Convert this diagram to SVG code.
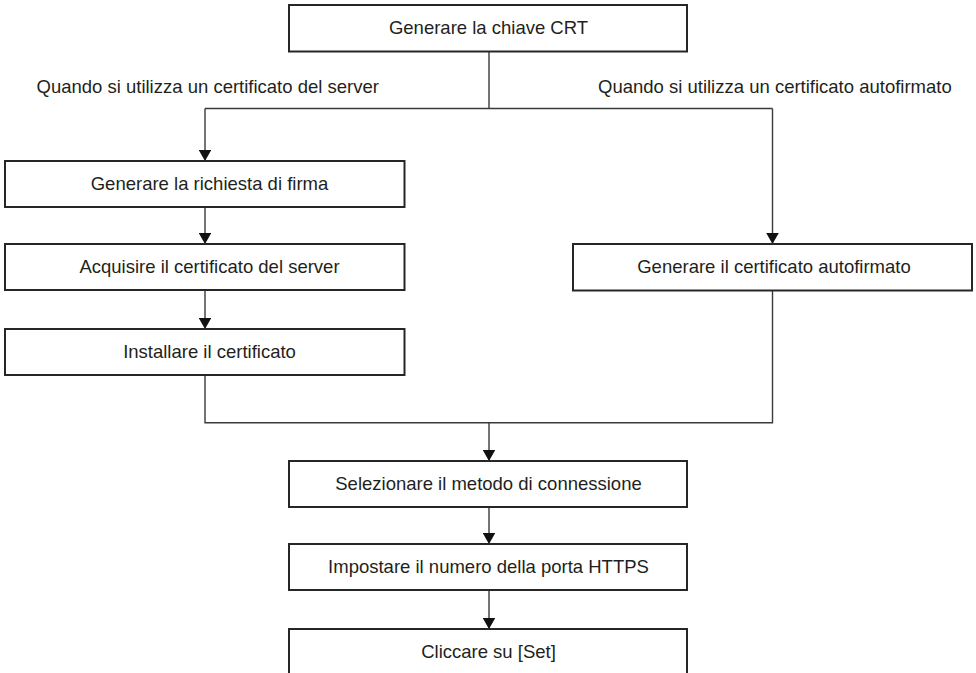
<svg xmlns="http://www.w3.org/2000/svg" width="976" height="673" viewBox="0 0 976 673">
<defs>
<style>
.box{fill:#fff;stroke:#262626;stroke-width:2}
.t{font-family:"Liberation Sans",Arial,sans-serif;font-size:18.5px;fill:#231f20;text-anchor:middle}
.lbl{font-family:"Liberation Sans",Arial,sans-serif;font-size:18.5px;fill:#231f20}
.c{fill:none;stroke:#3a3a3a;stroke-width:1.4}
</style>
<marker id="ah" viewBox="0 0 11 12.6" refX="11" refY="6.3" markerWidth="11" markerHeight="12.6" markerUnits="userSpaceOnUse" orient="auto">
<path d="M0,0 L11,6.3 L0,12.6 z" fill="#111"/>
</marker>
</defs>
<rect width="976" height="673" fill="#fff"/>
<g id="connectors">
<path class="c" d="M489,51.5 V108.5 M205,108.5 H772.5"/>
<path class="c" d="M205,108.5 V161" marker-end="url(#ah)"/>
<path class="c" d="M772.5,108.5 V244" marker-end="url(#ah)"/>
<path class="c" d="M205,207 V244" marker-end="url(#ah)"/>
<path class="c" d="M205,290 V329" marker-end="url(#ah)"/>
<path class="c" d="M205,375 V422.7 H772.5 V290"/>
<path class="c" d="M489,422.7 V461" marker-end="url(#ah)"/>
<path class="c" d="M489,507 V544" marker-end="url(#ah)"/>
<path class="c" d="M489,590 V629" marker-end="url(#ah)"/>
</g>
<g id="labels">
<text class="lbl" x="36.5" y="92.5">Quando si utilizza un certificato del server</text>
<text class="lbl" x="598" y="92.5">Quando si utilizza un certificato autofirmato</text>
</g>
<g id="n1"><rect class="box" x="289" y="5" width="398" height="46.5"/><text class="t" x="488.5" y="34">Generare la chiave CRT</text></g>
<g id="n2"><rect class="box" x="5" y="161" width="399.5" height="46"/><text class="t" x="209.5" y="190">Generare la richiesta di firma</text></g>
<g id="n3"><rect class="box" x="5" y="244" width="399.5" height="46"/><text class="t" x="209.5" y="273">Acquisire il certificato del server</text></g>
<g id="n4"><rect class="box" x="5" y="329" width="399.5" height="46"/><text class="t" x="209.5" y="358">Installare il certificato</text></g>
<g id="n5"><rect class="box" x="573" y="244" width="399" height="46.5"/><text class="t" x="774" y="273">Generare il certificato autofirmato</text></g>
<g id="n6"><rect class="box" x="289" y="461" width="398" height="46"/><text class="t" x="488.5" y="490">Selezionare il metodo di connessione</text></g>
<g id="n7"><rect class="box" x="289" y="544" width="398" height="46"/><text class="t" x="488.5" y="573">Impostare il numero della porta HTTPS</text></g>
<g id="n8"><rect class="box" x="289" y="629" width="398" height="46"/><text class="t" x="488.5" y="658">Cliccare su [Set]</text></g>
</svg>
